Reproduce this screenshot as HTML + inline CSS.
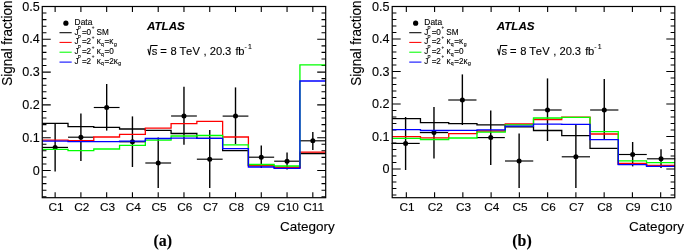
<!DOCTYPE html>
<html><head><meta charset="utf-8"><style>
html,body{margin:0;padding:0;background:#fff;}
body{width:685px;height:250px;overflow:hidden;}
svg{display:block;font-family:"Liberation Sans", sans-serif;fill:#000;will-change:transform;}
text{fill:#000;stroke:#000;stroke-width:0.12px;}
</style></head><body>
<svg width="685" height="250" viewBox="0 0 685 250">
<g><path d="M42.25 196.74 h4.2 M325.7 196.74 h-4.2 M42.25 190.18 h4.2 M325.7 190.18 h-4.2 M42.25 183.62 h4.2 M325.7 183.62 h-4.2 M42.25 177.06 h4.2 M325.7 177.06 h-4.2 M42.25 170.5 h8.5 M325.7 170.5 h-8.5 M42.25 163.94 h4.2 M325.7 163.94 h-4.2 M42.25 157.38 h4.2 M325.7 157.38 h-4.2 M42.25 150.82 h4.2 M325.7 150.82 h-4.2 M42.25 144.26 h4.2 M325.7 144.26 h-4.2 M42.25 137.7 h8.5 M325.7 137.7 h-8.5 M42.25 131.14 h4.2 M325.7 131.14 h-4.2 M42.25 124.58 h4.2 M325.7 124.58 h-4.2 M42.25 118.02 h4.2 M325.7 118.02 h-4.2 M42.25 111.46 h4.2 M325.7 111.46 h-4.2 M42.25 104.9 h8.5 M325.7 104.9 h-8.5 M42.25 98.34 h4.2 M325.7 98.34 h-4.2 M42.25 91.78 h4.2 M325.7 91.78 h-4.2 M42.25 85.22 h4.2 M325.7 85.22 h-4.2 M42.25 78.66 h4.2 M325.7 78.66 h-4.2 M42.25 72.1 h8.5 M325.7 72.1 h-8.5 M42.25 65.54 h4.2 M325.7 65.54 h-4.2 M42.25 58.98 h4.2 M325.7 58.98 h-4.2 M42.25 52.42 h4.2 M325.7 52.42 h-4.2 M42.25 45.86 h4.2 M325.7 45.86 h-4.2 M42.25 39.3 h8.5 M325.7 39.3 h-8.5 M42.25 32.74 h4.2 M325.7 32.74 h-4.2 M42.25 26.18 h4.2 M325.7 26.18 h-4.2 M42.25 19.62 h4.2 M325.7 19.62 h-4.2 M42.25 13.06 h4.2 M325.7 13.06 h-4.2 M42.25 6.5 h8.5 M325.7 6.5 h-8.5 M55.13 197.7 v-5.5 M55.13 6.5 v5.5 M80.9 197.7 v-5.5 M80.9 6.5 v5.5 M106.67 197.7 v-5.5 M106.67 6.5 v5.5 M132.44 197.7 v-5.5 M132.44 6.5 v5.5 M158.21 197.7 v-5.5 M158.21 6.5 v5.5 M183.97 197.7 v-5.5 M183.97 6.5 v5.5 M209.74 197.7 v-5.5 M209.74 6.5 v5.5 M235.51 197.7 v-5.5 M235.51 6.5 v5.5 M261.28 197.7 v-5.5 M261.28 6.5 v5.5 M287.05 197.7 v-5.5 M287.05 6.5 v5.5 M312.82 197.7 v-5.5 M312.82 6.5 v5.5" stroke="#000" stroke-width="1.1" fill="none"/>
<path d="M55.13 123 V171.4" stroke="#000" stroke-width="1.4" fill="none"/>
<path d="M42.25 147.4 H68.02" stroke="#000" stroke-width="1.15" fill="none"/>
<circle cx="55.13" cy="147.4" r="2.5" fill="#000"/>
<path d="M80.9 113.6 V161" stroke="#000" stroke-width="1.4" fill="none"/>
<path d="M68.02 137.2 H93.79" stroke="#000" stroke-width="1.15" fill="none"/>
<circle cx="80.9" cy="137.2" r="2.5" fill="#000"/>
<path d="M106.67 84 V130.6" stroke="#000" stroke-width="1.4" fill="none"/>
<path d="M93.79 107.5 H119.55" stroke="#000" stroke-width="1.15" fill="none"/>
<circle cx="106.67" cy="107.5" r="2.5" fill="#000"/>
<path d="M132.44 116.4 V167" stroke="#000" stroke-width="1.4" fill="none"/>
<path d="M119.55 141.8 H145.32" stroke="#000" stroke-width="1.15" fill="none"/>
<circle cx="132.44" cy="141.8" r="2.5" fill="#000"/>
<path d="M158.21 137.6 V188" stroke="#000" stroke-width="1.4" fill="none"/>
<path d="M145.32 163 H171.09" stroke="#000" stroke-width="1.15" fill="none"/>
<circle cx="158.21" cy="163" r="2.5" fill="#000"/>
<path d="M183.97 86.7 V144.8" stroke="#000" stroke-width="1.4" fill="none"/>
<path d="M171.09 116 H196.86" stroke="#000" stroke-width="1.15" fill="none"/>
<circle cx="183.97" cy="116" r="2.5" fill="#000"/>
<path d="M209.74 130 V188" stroke="#000" stroke-width="1.4" fill="none"/>
<path d="M196.86 159.2 H222.63" stroke="#000" stroke-width="1.15" fill="none"/>
<circle cx="209.74" cy="159.2" r="2.5" fill="#000"/>
<path d="M235.51 87.4 V144" stroke="#000" stroke-width="1.4" fill="none"/>
<path d="M222.63 116.1 H248.4" stroke="#000" stroke-width="1.15" fill="none"/>
<circle cx="235.51" cy="116.1" r="2.5" fill="#000"/>
<path d="M261.28 145.6 V168" stroke="#000" stroke-width="1.4" fill="none"/>
<path d="M248.4 157.2 H274.16" stroke="#000" stroke-width="1.15" fill="none"/>
<circle cx="261.28" cy="157.2" r="2.5" fill="#000"/>
<path d="M287.05 152.6 V169.4" stroke="#000" stroke-width="1.4" fill="none"/>
<path d="M274.16 161.2 H299.93" stroke="#000" stroke-width="1.15" fill="none"/>
<circle cx="287.05" cy="161.2" r="2.5" fill="#000"/>
<path d="M312.82 132 V150" stroke="#000" stroke-width="1.4" fill="none"/>
<path d="M299.93 140.8 H325.7" stroke="#000" stroke-width="1.15" fill="none"/>
<circle cx="312.82" cy="140.8" r="2.5" fill="#000"/>
<path d="M42.25 123.4 L68.02 123.4 L68.02 126.7 L93.79 126.7 L93.79 127.4 L119.55 127.4 L119.55 129 L145.32 129 L145.32 130.4 L171.09 130.4 L171.09 133.5 L196.86 133.5 L196.86 138.3 L222.63 138.3 L222.63 150.6 L248.4 150.6 L248.4 165.7 L274.16 165.7 L274.16 167.5 L299.93 167.5 L299.93 153.5 L325.7 153.5" fill="none" stroke="#000000" stroke-width="1.3"/>
<path d="M42.25 140.2 L68.02 140.2 L68.02 140.6 L93.79 140.6 L93.79 137 L119.55 137 L119.55 134.4 L145.32 134.4 L145.32 128.2 L171.09 128.2 L171.09 123.7 L196.86 123.7 L196.86 121.3 L222.63 121.3 L222.63 137 L248.4 137 L248.4 165.7 L274.16 165.7 L274.16 167.5 L299.93 167.5 L299.93 152.2 L325.7 152.2" fill="none" stroke="#ff0000" stroke-width="1.3"/>
<path d="M42.25 149.4 L68.02 149.4 L68.02 150.6 L93.79 150.6 L93.79 149 L119.55 149 L119.55 145.4 L145.32 145.4 L145.32 140.2 L171.09 140.2 L171.09 136 L196.86 136 L196.86 135.5 L222.63 135.5 L222.63 144.8 L248.4 144.8 L248.4 164.5 L274.16 164.5 L274.16 166 L299.93 166 L299.93 64.8 L325.7 64.8" fill="none" stroke="#00ff00" stroke-width="1.3"/>
<path d="M42.25 141.2 L68.02 141.2 L68.02 141.6 L93.79 141.6 L93.79 141.6 L119.55 141.6 L119.55 141.2 L145.32 141.2 L145.32 138.5 L171.09 138.5 L171.09 138.1 L196.86 138.1 L196.86 138.4 L222.63 138.4 L222.63 148.6 L248.4 148.6 L248.4 167 L274.16 167 L274.16 168.4 L299.93 168.4 L299.93 81 L325.7 81" fill="none" stroke="#0000ff" stroke-width="1.3"/>
<rect x="42.25" y="6.5" width="283.45" height="191.2" fill="none" stroke="#000" stroke-width="1.2"/>
<text x="39.65" y="6.5" text-anchor="end" font-size="12.6" dominant-baseline="central">0.5</text>
<text x="39.65" y="39.3" text-anchor="end" font-size="12.6" dominant-baseline="central">0.4</text>
<text x="39.65" y="72.1" text-anchor="end" font-size="12.6" dominant-baseline="central">0.3</text>
<text x="39.65" y="104.9" text-anchor="end" font-size="12.6" dominant-baseline="central">0.2</text>
<text x="39.65" y="137.7" text-anchor="end" font-size="12.6" dominant-baseline="central">0.1</text>
<text x="39.65" y="170.5" text-anchor="end" font-size="12.6" dominant-baseline="central">0</text>
<text x="56.03" y="211.4" text-anchor="middle" font-size="11.8">C1</text>
<text x="81.8" y="211.4" text-anchor="middle" font-size="11.8">C2</text>
<text x="107.57" y="211.4" text-anchor="middle" font-size="11.8">C3</text>
<text x="133.34" y="211.4" text-anchor="middle" font-size="11.8">C4</text>
<text x="159.11" y="211.4" text-anchor="middle" font-size="11.8">C5</text>
<text x="184.88" y="211.4" text-anchor="middle" font-size="11.8">C6</text>
<text x="210.64" y="211.4" text-anchor="middle" font-size="11.8">C7</text>
<text x="236.41" y="211.4" text-anchor="middle" font-size="11.8">C8</text>
<text x="262.18" y="211.4" text-anchor="middle" font-size="11.8">C9</text>
<text x="287.95" y="211.4" text-anchor="middle" font-size="11.8">C10</text>
<text x="313.72" y="211.4" text-anchor="middle" font-size="11.8">C11</text>
<text x="334.8" y="230.8" text-anchor="end" font-size="13.5">Category</text>
<text transform="translate(11.7 85.7) rotate(-90) scale(1 1.11)" font-size="13.44">Signal fraction</text>
<text x="162.8" y="245.9" text-anchor="middle" font-size="15.9" font-family='"Liberation Serif", serif' font-weight="bold">(a)</text>
<text x="147" y="30.1" font-size="11.6" font-weight="bold" font-style="italic">ATLAS</text>
<text y="54.5" font-size="11.2" x="151.7 160.15 170.4 179.55 186.1 192.55 203.5 209.85 216.05 221.9 225.05 235.45 238.3">s=8TeV,20.3fb</text>
<text y="49" font-size="7" x="244.6 248">-1</text>
<path d="M147.9 48.9 L149.5 55.2 L150.9 45.4 H157.6" fill="none" stroke="#000" stroke-width="1.05" stroke-linejoin="miter"/>
<circle cx="65.9" cy="23.2" r="2.6" fill="#000"/>
<path d="M59.5 32.7 h12.2" stroke="#000000" stroke-width="1.05"/>
<path d="M59.5 42.4 h12.2" stroke="#ff0000" stroke-width="1.05"/>
<path d="M59.5 52.2 h12.2" stroke="#00ff00" stroke-width="1.05"/>
<path d="M59.5 62.1 h12.2" stroke="#0000ff" stroke-width="1.05"/>
<text x="74.6" y="24.8" font-size="8.4">Data</text>
<text x="74.45" y="34.5" font-size="8.2">J</text>
<text x="77.8" y="29.5" font-size="4.6">P</text>
<text x="82" y="34.5" font-size="8.2">=</text>
<text x="86.5" y="34.5" font-size="8.2">0</text>
<text x="91.8" y="29.1" font-size="4.6">+</text>
<text x="96.6" y="34.5" font-size="8.2">SM</text>
<text x="74.45" y="44.2" font-size="8.2">J</text>
<text x="77.8" y="39.2" font-size="4.6">P</text>
<text x="82" y="44.2" font-size="8.2">=</text>
<text x="86.5" y="44.2" font-size="8.2">2</text>
<text x="91.8" y="38.8" font-size="4.6">+</text>
<text x="96.7" y="44.2" font-size="8.2">&#954;</text>
<text x="101" y="46" font-size="5.2">q</text>
<text x="104.5" y="44.2" font-size="8.2">=</text>
<text x="109.35" y="44.2" font-size="8.2">&#954;</text>
<text x="113.9" y="46" font-size="5.2">g</text>
<text x="74.45" y="54" font-size="8.2">J</text>
<text x="77.8" y="49" font-size="4.6">P</text>
<text x="82" y="54" font-size="8.2">=</text>
<text x="86.5" y="54" font-size="8.2">2</text>
<text x="91.8" y="48.6" font-size="4.6">+</text>
<text x="96.7" y="54" font-size="8.2">&#954;</text>
<text x="101" y="55.8" font-size="5.2">q</text>
<text x="104.5" y="54" font-size="8.2">=</text>
<text x="109.3" y="54" font-size="8.2">0</text>
<text x="74.45" y="63.6" font-size="8.2">J</text>
<text x="77.8" y="58.6" font-size="4.6">P</text>
<text x="82" y="63.6" font-size="8.2">=</text>
<text x="86.5" y="63.6" font-size="8.2">2</text>
<text x="91.8" y="58.2" font-size="4.6">+</text>
<text x="96.7" y="63.6" font-size="8.2">&#954;</text>
<text x="101" y="65.4" font-size="5.2">q</text>
<text x="104.5" y="63.6" font-size="8.2">=</text>
<text x="109.2" y="63.6" font-size="8.2">2</text>
<text x="113.85" y="63.6" font-size="8.2">&#954;</text>
<text x="118.2" y="65.4" font-size="5.2">g</text></g>
<g><path d="M392.2 195 h4.2 M674.8 195 h-4.2 M392.2 188.5 h4.2 M674.8 188.5 h-4.2 M392.2 182 h4.2 M674.8 182 h-4.2 M392.2 175.5 h4.2 M674.8 175.5 h-4.2 M392.2 169 h8.5 M674.8 169 h-8.5 M392.2 162.5 h4.2 M674.8 162.5 h-4.2 M392.2 156 h4.2 M674.8 156 h-4.2 M392.2 149.5 h4.2 M674.8 149.5 h-4.2 M392.2 143 h4.2 M674.8 143 h-4.2 M392.2 136.5 h8.5 M674.8 136.5 h-8.5 M392.2 130 h4.2 M674.8 130 h-4.2 M392.2 123.5 h4.2 M674.8 123.5 h-4.2 M392.2 117 h4.2 M674.8 117 h-4.2 M392.2 110.5 h4.2 M674.8 110.5 h-4.2 M392.2 104 h8.5 M674.8 104 h-8.5 M392.2 97.5 h4.2 M674.8 97.5 h-4.2 M392.2 91 h4.2 M674.8 91 h-4.2 M392.2 84.5 h4.2 M674.8 84.5 h-4.2 M392.2 78 h4.2 M674.8 78 h-4.2 M392.2 71.5 h8.5 M674.8 71.5 h-8.5 M392.2 65 h4.2 M674.8 65 h-4.2 M392.2 58.5 h4.2 M674.8 58.5 h-4.2 M392.2 52 h4.2 M674.8 52 h-4.2 M392.2 45.5 h4.2 M674.8 45.5 h-4.2 M392.2 39 h8.5 M674.8 39 h-8.5 M392.2 32.5 h4.2 M674.8 32.5 h-4.2 M392.2 26 h4.2 M674.8 26 h-4.2 M392.2 19.5 h4.2 M674.8 19.5 h-4.2 M392.2 13 h4.2 M674.8 13 h-4.2 M392.2 6.5 h8.5 M674.8 6.5 h-8.5 M406.33 197.7 v-5.5 M406.33 6.5 v5.5 M434.59 197.7 v-5.5 M434.59 6.5 v5.5 M462.85 197.7 v-5.5 M462.85 6.5 v5.5 M491.11 197.7 v-5.5 M491.11 6.5 v5.5 M519.37 197.7 v-5.5 M519.37 6.5 v5.5 M547.63 197.7 v-5.5 M547.63 6.5 v5.5 M575.89 197.7 v-5.5 M575.89 6.5 v5.5 M604.15 197.7 v-5.5 M604.15 6.5 v5.5 M632.41 197.7 v-5.5 M632.41 6.5 v5.5 M660.67 197.7 v-5.5 M660.67 6.5 v5.5" stroke="#000" stroke-width="1.1" fill="none"/>
<path d="M405.6 117 V170" stroke="#000" stroke-width="1.4" fill="none"/>
<path d="M391.47 143.4 H419.73" stroke="#000" stroke-width="1.15" fill="none"/>
<circle cx="405.6" cy="143.4" r="2.5" fill="#000"/>
<path d="M433.98 107 V158.4" stroke="#000" stroke-width="1.4" fill="none"/>
<path d="M419.85 132.6 H448.11" stroke="#000" stroke-width="1.15" fill="none"/>
<circle cx="433.98" cy="132.6" r="2.5" fill="#000"/>
<path d="M462.36 74.4 V125" stroke="#000" stroke-width="1.4" fill="none"/>
<path d="M448.23 100 H476.49" stroke="#000" stroke-width="1.15" fill="none"/>
<circle cx="462.36" cy="100" r="2.5" fill="#000"/>
<path d="M490.74 110.4 V165" stroke="#000" stroke-width="1.4" fill="none"/>
<path d="M476.61 137.6 H504.87" stroke="#000" stroke-width="1.15" fill="none"/>
<circle cx="490.74" cy="137.6" r="2.5" fill="#000"/>
<path d="M519.12 133.4 V188" stroke="#000" stroke-width="1.4" fill="none"/>
<path d="M504.99 161 H533.25" stroke="#000" stroke-width="1.15" fill="none"/>
<circle cx="519.12" cy="161" r="2.5" fill="#000"/>
<path d="M547.5 78.4 V141" stroke="#000" stroke-width="1.4" fill="none"/>
<path d="M533.37 110 H561.63" stroke="#000" stroke-width="1.15" fill="none"/>
<circle cx="547.5" cy="110" r="2.5" fill="#000"/>
<path d="M575.88 125 V188" stroke="#000" stroke-width="1.4" fill="none"/>
<path d="M561.75 156.8 H590.01" stroke="#000" stroke-width="1.15" fill="none"/>
<circle cx="575.88" cy="156.8" r="2.5" fill="#000"/>
<path d="M604.26 79 V140" stroke="#000" stroke-width="1.4" fill="none"/>
<path d="M590.13 110 H618.39" stroke="#000" stroke-width="1.15" fill="none"/>
<circle cx="604.26" cy="110" r="2.5" fill="#000"/>
<path d="M632.64 142 V166.4" stroke="#000" stroke-width="1.4" fill="none"/>
<path d="M618.51 154.5 H646.77" stroke="#000" stroke-width="1.15" fill="none"/>
<circle cx="632.64" cy="154.5" r="2.5" fill="#000"/>
<path d="M661.02 149.3 V168" stroke="#000" stroke-width="1.4" fill="none"/>
<path d="M646.89 158.8 H675.15" stroke="#000" stroke-width="1.15" fill="none"/>
<circle cx="661.02" cy="158.8" r="2.5" fill="#000"/>
<path d="M392.2 118.7 L420.46 118.7 L420.46 122.7 L448.72 122.7 L448.72 123.6 L476.98 123.6 L476.98 124.9 L505.24 124.9 L505.24 126.9 L533.5 126.9 L533.5 130.5 L561.76 130.5 L561.76 135.6 L590.02 135.6 L590.02 148.4 L618.28 148.4 L618.28 164.4 L646.54 164.4 L646.54 165.8 L674.8 165.8" fill="none" stroke="#000000" stroke-width="1.3"/>
<path d="M392.2 136.6 L420.46 136.6 L420.46 137.8 L448.72 137.8 L448.72 133.6 L476.98 133.6 L476.98 131 L505.24 131 L505.24 124 L533.5 124 L533.5 119.5 L561.76 119.5 L561.76 117.2 L590.02 117.2 L590.02 134 L618.28 134 L618.28 163.5 L646.54 163.5 L646.54 165.3 L674.8 165.3" fill="none" stroke="#ff0000" stroke-width="1.3"/>
<path d="M392.2 138.4 L420.46 138.4 L420.46 139.5 L448.72 139.5 L448.72 138 L476.98 138 L476.98 132.2 L505.24 132.2 L505.24 124.8 L533.5 124.8 L533.5 118 L561.76 118 L561.76 117.4 L590.02 117.4 L590.02 131.6 L618.28 131.6 L618.28 160.8 L646.54 160.8 L646.54 162.6 L674.8 162.6" fill="none" stroke="#00ff00" stroke-width="1.3"/>
<path d="M392.2 129.7 L420.46 129.7 L420.46 130.5 L448.72 130.5 L448.72 130.4 L476.98 130.4 L476.98 129.8 L505.24 129.8 L505.24 126.2 L533.5 126.2 L533.5 124.2 L561.76 124.2 L561.76 124.4 L590.02 124.4 L590.02 139.6 L618.28 139.6 L618.28 164.7 L646.54 164.7 L646.54 166.4 L674.8 166.4" fill="none" stroke="#0000ff" stroke-width="1.3"/>
<rect x="392.2" y="6.5" width="282.6" height="191.2" fill="none" stroke="#000" stroke-width="1.2"/>
<text x="389.6" y="6.5" text-anchor="end" font-size="12.6" dominant-baseline="central">0.5</text>
<text x="389.6" y="39" text-anchor="end" font-size="12.6" dominant-baseline="central">0.4</text>
<text x="389.6" y="71.5" text-anchor="end" font-size="12.6" dominant-baseline="central">0.3</text>
<text x="389.6" y="104" text-anchor="end" font-size="12.6" dominant-baseline="central">0.2</text>
<text x="389.6" y="136.5" text-anchor="end" font-size="12.6" dominant-baseline="central">0.1</text>
<text x="389.6" y="169" text-anchor="end" font-size="12.6" dominant-baseline="central">0</text>
<text x="406.93" y="211.4" text-anchor="middle" font-size="11.8">C1</text>
<text x="435.19" y="211.4" text-anchor="middle" font-size="11.8">C2</text>
<text x="463.45" y="211.4" text-anchor="middle" font-size="11.8">C3</text>
<text x="491.71" y="211.4" text-anchor="middle" font-size="11.8">C4</text>
<text x="519.97" y="211.4" text-anchor="middle" font-size="11.8">C5</text>
<text x="548.23" y="211.4" text-anchor="middle" font-size="11.8">C6</text>
<text x="576.49" y="211.4" text-anchor="middle" font-size="11.8">C7</text>
<text x="604.75" y="211.4" text-anchor="middle" font-size="11.8">C8</text>
<text x="633.01" y="211.4" text-anchor="middle" font-size="11.8">C9</text>
<text x="661.27" y="211.4" text-anchor="middle" font-size="11.8">C10</text>
<text x="683.9" y="230.8" text-anchor="end" font-size="13.5">Category</text>
<text transform="translate(361.45 85.7) rotate(-90) scale(1 1.11)" font-size="13.44">Signal fraction</text>
<text x="522" y="245.9" text-anchor="middle" font-size="15.9" font-family='"Liberation Serif", serif' font-weight="bold">(b)</text>
<text x="496.75" y="30.1" font-size="11.6" font-weight="bold" font-style="italic">ATLAS</text>
<text y="54.5" font-size="11.2" x="501.45 509.9 520.15 529.3 535.85 542.3 553.25 559.6 565.8 571.65 574.8 585.2 588.05">s=8TeV,20.3fb</text>
<text y="49" font-size="7" x="594.35 597.75">-1</text>
<path d="M497.65 48.9 L499.25 55.2 L500.65 45.4 H507.35" fill="none" stroke="#000" stroke-width="1.05" stroke-linejoin="miter"/>
<circle cx="415.65" cy="23.2" r="2.6" fill="#000"/>
<path d="M409.25 32.7 h12.2" stroke="#000000" stroke-width="1.05"/>
<path d="M409.25 42.4 h12.2" stroke="#ff0000" stroke-width="1.05"/>
<path d="M409.25 52.2 h12.2" stroke="#00ff00" stroke-width="1.05"/>
<path d="M409.25 62.1 h12.2" stroke="#0000ff" stroke-width="1.05"/>
<text x="424.35" y="24.8" font-size="8.4">Data</text>
<text x="424.2" y="34.5" font-size="8.2">J</text>
<text x="427.55" y="29.5" font-size="4.6">P</text>
<text x="431.75" y="34.5" font-size="8.2">=</text>
<text x="436.25" y="34.5" font-size="8.2">0</text>
<text x="441.55" y="29.1" font-size="4.6">+</text>
<text x="446.35" y="34.5" font-size="8.2">SM</text>
<text x="424.2" y="44.2" font-size="8.2">J</text>
<text x="427.55" y="39.2" font-size="4.6">P</text>
<text x="431.75" y="44.2" font-size="8.2">=</text>
<text x="436.25" y="44.2" font-size="8.2">2</text>
<text x="441.55" y="38.8" font-size="4.6">+</text>
<text x="446.45" y="44.2" font-size="8.2">&#954;</text>
<text x="450.75" y="46" font-size="5.2">q</text>
<text x="454.25" y="44.2" font-size="8.2">=</text>
<text x="459.1" y="44.2" font-size="8.2">&#954;</text>
<text x="463.65" y="46" font-size="5.2">g</text>
<text x="424.2" y="54" font-size="8.2">J</text>
<text x="427.55" y="49" font-size="4.6">P</text>
<text x="431.75" y="54" font-size="8.2">=</text>
<text x="436.25" y="54" font-size="8.2">2</text>
<text x="441.55" y="48.6" font-size="4.6">+</text>
<text x="446.45" y="54" font-size="8.2">&#954;</text>
<text x="450.75" y="55.8" font-size="5.2">q</text>
<text x="454.25" y="54" font-size="8.2">=</text>
<text x="459.05" y="54" font-size="8.2">0</text>
<text x="424.2" y="63.6" font-size="8.2">J</text>
<text x="427.55" y="58.6" font-size="4.6">P</text>
<text x="431.75" y="63.6" font-size="8.2">=</text>
<text x="436.25" y="63.6" font-size="8.2">2</text>
<text x="441.55" y="58.2" font-size="4.6">+</text>
<text x="446.45" y="63.6" font-size="8.2">&#954;</text>
<text x="450.75" y="65.4" font-size="5.2">q</text>
<text x="454.25" y="63.6" font-size="8.2">=</text>
<text x="458.95" y="63.6" font-size="8.2">2</text>
<text x="463.6" y="63.6" font-size="8.2">&#954;</text>
<text x="467.95" y="65.4" font-size="5.2">g</text></g>
</svg>
</body></html>
